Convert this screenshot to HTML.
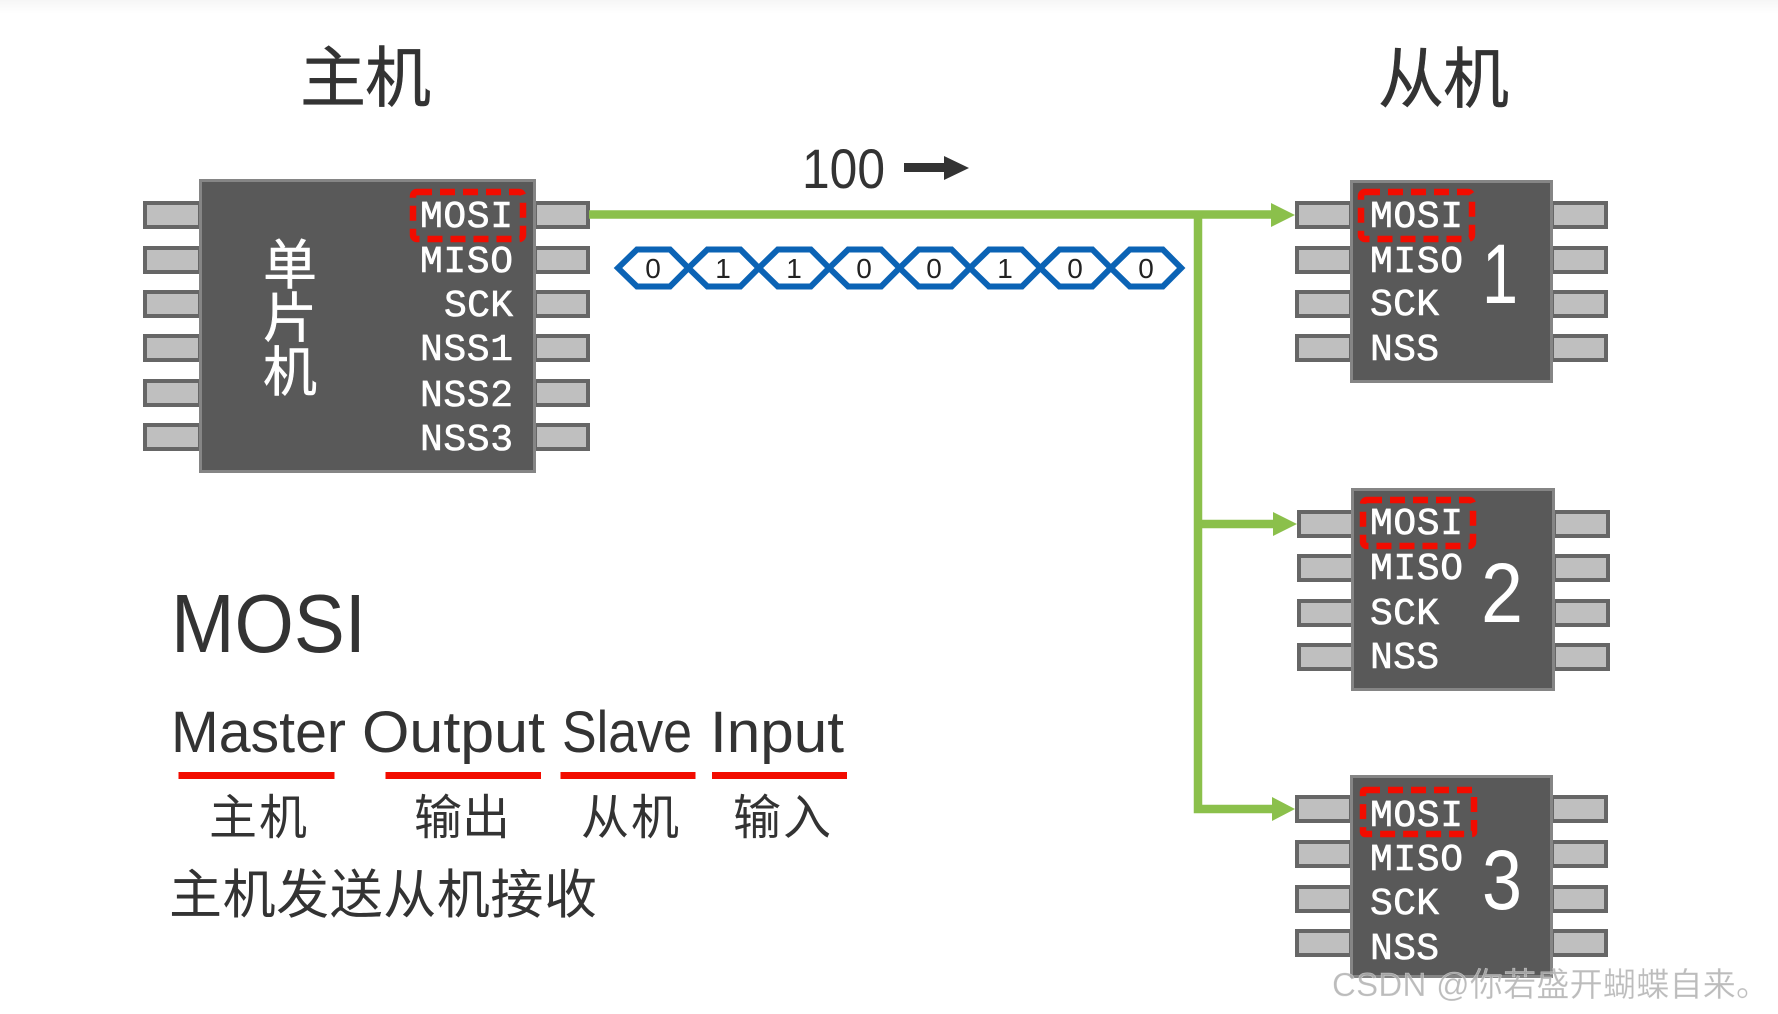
<!DOCTYPE html>
<html lang="zh"><head><meta charset="utf-8"><title>MOSI</title>
<style>
html,body{margin:0;padding:0;background:#fff;width:1778px;height:1014px;overflow:hidden}
svg{display:block}
.cjk{font-family:"Liberation Sans","Noto Sans CJK SC",sans-serif}
.t{font-family:"Liberation Sans","Noto Sans CJK SC",sans-serif;fill:#333}
.m{font-family:"Liberation Mono",monospace;font-size:38px;fill:#fff;stroke:#fff;stroke-width:.6}
.chip{fill:#595959;stroke:#858585;stroke-width:3}
.pin{fill:#bfbfbf;stroke:#666;stroke-width:4}
.dash{fill:none;stroke:#f20c00;stroke-width:6.5;stroke-dasharray:15 8}
.g{fill:none;stroke:#8bc04b;stroke-width:8.5}
.gh{fill:#8bc04b}
.r{fill:#f20c00}
.d{font-family:"Liberation Sans",sans-serif;font-size:28px;fill:#222;text-anchor:middle}
.n{font-family:"Liberation Sans",sans-serif;font-size:84px;fill:#fff;text-anchor:middle}
</style></head><body>
<svg width="1778" height="1014" viewBox="0 0 1778 1014" xmlns="http://www.w3.org/2000/svg">
<defs><linearGradient id="top" x1="0" y1="0" x2="0" y2="1"><stop offset="0" stop-color="#f6f6f6"/><stop offset="1" stop-color="#fff"/></linearGradient></defs>
<rect width="1778" height="1014" fill="#fff"/>
<rect width="1778" height="14" fill="url(#top)"/>

<text class="t" x="300" y="101" font-size="66" textLength="131" stroke="#333" stroke-width=".5">主机</text>
<text class="t" x="1378" y="102" font-size="66" textLength="131" stroke="#333" stroke-width=".5">从机</text>

<!-- master -->
<g class="pin">
<rect x="145" y="203" width="55" height="24"/><rect x="145" y="248" width="55" height="24"/><rect x="145" y="292" width="55" height="24"/><rect x="145" y="336" width="55" height="24"/><rect x="145" y="381" width="55" height="24"/><rect x="145" y="425" width="55" height="24"/>
<rect x="535" y="203" width="53" height="24"/><rect x="535" y="248" width="53" height="24"/><rect x="535" y="292" width="53" height="24"/><rect x="535" y="336" width="53" height="24"/><rect x="535" y="381" width="53" height="24"/><rect x="535" y="425" width="53" height="24"/>
</g>
<rect class="chip" x="200.500" y="180.500" width="334" height="291"/>
<g class="cjk" font-size="54" fill="#fff" stroke="#fff" stroke-width=".5">
<text x="263" y="284">单</text><text x="263" y="337">片</text><text x="263" y="391">机</text>
</g>
<text class="m" x="420" y="227" textLength="93">MOSI</text>
<text class="m" x="420" y="272" textLength="93">MISO</text>
<text class="m" x="444" y="316" textLength="69">SCK</text>
<text class="m" x="420" y="360" textLength="93">NSS1</text>
<text class="m" x="420" y="406" textLength="93">NSS2</text>
<text class="m" x="420" y="450" textLength="93">NSS3</text>
<rect class="dash" x="413" y="192" width="110" height="47" rx="4"/>

<!-- connectors -->
<path class="g" d="M589 214.500H1275"/>
<path class="g" d="M1198 214V809H1275"/>
<path class="g" d="M1198 524H1275"/>
<polygon class="gh" points="1271,203 1295,215 1271,227"/>
<polygon class="gh" points="1273,512 1297,524 1273,536"/>
<polygon class="gh" points="1272,797 1295,809 1272,821"/>

<!-- 100 arrow -->
<text class="t" x="802" y="188" font-size="56" textLength="83" lengthAdjust="spacingAndGlyphs">100</text>
<rect x="904" y="163" width="42" height="9" fill="#333"/>
<polygon points="944,156 969,168 944,180" fill="#333"/>

<!-- data hexagons -->
<g fill="none" stroke="#0b63b5" stroke-width="6">
<path d="M618 268L637 249.500H670L688.400 268L670 286.500H637Z"/>
<path d="M688.400 268L707.400 249.500H740.400L758.800 268L740.400 286.500H707.400Z"/>
<path d="M758.800 268L777.800 249.500H810.800L829.200 268L810.800 286.500H777.800Z"/>
<path d="M829.200 268L848.200 249.500H881.200L899.600 268L881.200 286.500H848.200Z"/>
<path d="M899.600 268L918.600 249.500H951.600L970 268L951.600 286.500H918.600Z"/>
<path d="M970 268L989 249.500H1022L1040.400 268L1022 286.500H989Z"/>
<path d="M1040.400 268L1059.400 249.500H1092.400L1110.800 268L1092.400 286.500H1059.400Z"/>
<path d="M1110.800 268L1129.800 249.500H1162.800L1181.200 268L1162.800 286.500H1129.800Z"/>
</g>
<text class="d" x="653" y="278">0</text><text class="d" x="723" y="278">1</text><text class="d" x="794" y="278">1</text><text class="d" x="864" y="278">0</text><text class="d" x="934" y="278">0</text><text class="d" x="1005" y="278">1</text><text class="d" x="1075" y="278">0</text><text class="d" x="1146" y="278">0</text>

<!-- slave 1 -->
<g class="pin">
<rect x="1297" y="203" width="54" height="24"/><rect x="1297" y="248" width="54" height="24"/><rect x="1297" y="292" width="54" height="24"/><rect x="1297" y="336" width="54" height="24"/>
<rect x="1552" y="203" width="54" height="24"/><rect x="1552" y="248" width="54" height="24"/><rect x="1552" y="292" width="54" height="24"/><rect x="1552" y="336" width="54" height="24"/>
</g>
<rect class="chip" x="1351.500" y="181.500" width="200" height="200"/>
<text class="m" x="1370" y="227" textLength="93">MOSI</text>
<text class="m" x="1370" y="272" textLength="93">MISO</text>
<text class="m" x="1370" y="315" textLength="69">SCK</text>
<text class="m" x="1370" y="360" textLength="69">NSS</text>
<rect class="dash" x="1361" y="192" width="111" height="47" rx="4"/>
<text class="n" x="1500" y="303" textLength="36" lengthAdjust="spacingAndGlyphs">1</text>

<!-- slave 2 -->
<g class="pin">
<rect x="1299" y="512" width="54" height="24"/><rect x="1299" y="556" width="54" height="24"/><rect x="1299" y="601" width="54" height="24"/><rect x="1299" y="645" width="54" height="24"/>
<rect x="1554" y="512" width="54" height="24"/><rect x="1554" y="556" width="54" height="24"/><rect x="1554" y="601" width="54" height="24"/><rect x="1554" y="645" width="54" height="24"/>
</g>
<rect class="chip" x="1352.500" y="489.500" width="201" height="200"/>
<text class="m" x="1370" y="534" textLength="93">MOSI</text>
<text class="m" x="1370" y="579" textLength="93">MISO</text>
<text class="m" x="1370" y="624" textLength="69">SCK</text>
<text class="m" x="1370" y="668" textLength="69">NSS</text>
<rect class="dash" x="1363" y="500" width="110" height="46" rx="4"/>
<text class="n" x="1502" y="622" textLength="42" lengthAdjust="spacingAndGlyphs">2</text>

<!-- slave 3 -->
<g class="pin">
<rect x="1297" y="797" width="54" height="24"/><rect x="1297" y="842" width="54" height="24"/><rect x="1297" y="887" width="54" height="24"/><rect x="1297" y="931" width="54" height="24"/>
<rect x="1552" y="797" width="54" height="24"/><rect x="1552" y="842" width="54" height="24"/><rect x="1552" y="887" width="54" height="24"/><rect x="1552" y="931" width="54" height="24"/>
</g>
<rect class="chip" x="1351.500" y="776.500" width="200" height="200"/>
<text class="m" x="1370" y="826" textLength="93">MOSI</text>
<text class="m" x="1370" y="870" textLength="93">MISO</text>
<text class="m" x="1370" y="914" textLength="69">SCK</text>
<text class="m" x="1370" y="959" textLength="69">NSS</text>
<rect class="dash" x="1363" y="790" width="111" height="44" rx="2"/>
<text class="n" x="1502" y="909" textLength="40" lengthAdjust="spacingAndGlyphs">3</text>

<!-- explanation -->
<text class="t" x="171" y="652" font-size="83" textLength="195" lengthAdjust="spacingAndGlyphs">MOSI</text>
<g class="t" font-size="58">
<text x="171" y="752" textLength="175" lengthAdjust="spacingAndGlyphs">Master</text>
<text x="362" y="752" textLength="183" lengthAdjust="spacingAndGlyphs">Output</text>
<text x="562" y="752" textLength="130" lengthAdjust="spacingAndGlyphs">Slave</text>
<text x="710" y="752" textLength="134" lengthAdjust="spacingAndGlyphs">Input</text>
</g>
<rect class="r" x="178.500" y="772" width="156" height="7"/>
<rect class="r" x="385.500" y="772" width="155.500" height="7"/>
<rect class="r" x="560.500" y="772" width="135" height="7"/>
<rect class="r" x="712" y="772" width="135" height="7"/>
<g class="t" font-size="48">
<text x="209" y="834" textLength="98">主机</text>
<text x="414" y="834" textLength="96">输出</text>
<text x="581" y="834" textLength="98">从机</text>
<text x="733" y="834" textLength="98">输入</text>
</g>
<text class="t" x="169" y="913" font-size="53" textLength="428">主机发送从机接收</text>

<!-- watermark -->
<text x="1332" y="996" font-family="Liberation Sans, Noto Sans CJK SC, sans-serif" font-size="33" textLength="437" fill="#b0b0b0" fill-opacity=".85" stroke="#fff" stroke-width=".5" stroke-opacity=".5">CSDN @你若盛开蝴蝶自来。</text>
</svg>
</body></html>
